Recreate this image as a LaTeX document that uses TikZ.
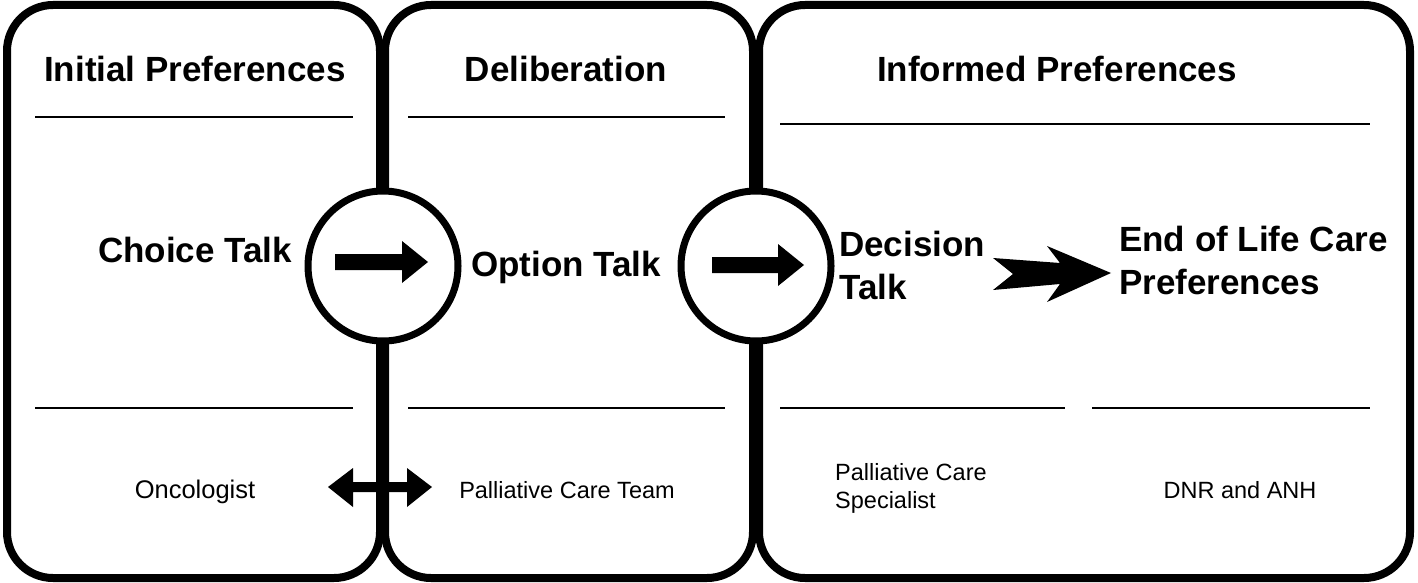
\documentclass[tikz,border=0pt]{standalone}
\usepackage{fontspec}
\setmainfont{Liberation Sans}
\begin{document}
\begin{tikzpicture}[x=1pt,y=-1pt,
  panel/.style={draw=black,line width=8pt,rounded corners=46pt},
  rule/.style={draw=black,line width=2pt},
  hub/.style={circle,draw=black,fill=white,line width=7pt,minimum size=150pt,inner sep=0pt},
  title/.style={font=\fontsize{35}{42}\selectfont\bfseries,anchor=base,inner sep=0pt},
  talk/.style={font=\fontsize{35}{43}\selectfont\bfseries,anchor=base,inner sep=0pt},
  talkl/.style={font=\fontsize{35}{43}\selectfont\bfseries,anchor=base west,align=left,inner sep=0pt},
  role/.style={font=\fontsize{23.5}{28}\selectfont,anchor=base,inner sep=0pt},
  rolel/.style={font=\fontsize{23.5}{28}\selectfont,anchor=base west,align=left,inner sep=0pt},
  icon/.style={fill=black,draw=none}]
\useasboundingbox (0,0) rectangle (1418,583);
% panels
\draw[panel] (7,5) rectangle (380,578);
\draw[panel] (385,5) rectangle (753,578);
\draw[panel] (759,5) rectangle (1410,578);
% rules
\draw[rule] (35,117) -- (353,117);
\draw[rule] (35,408) -- (353,408);
\draw[rule] (408,117) -- (725,117);
\draw[rule] (408,408) -- (725,408);
\draw[rule] (780,124) -- (1370,124);
\draw[rule] (780,408) -- (1065,408);
\draw[rule] (1092,408) -- (1370,408);
% titles
\node[title] (t1) at (195,82) {Initial Preferences};
\node[title] (t2) at (566,82) {Deliberation};
\node[title] (t3) at (1057,82) {Informed Preferences};
% hubs
\node[hub] (h1) at (383,266) {};
\node[hub] (h2) at (756,266) {};
% arrows inside hubs
\fill[icon] (335,254) -- (402,254) -- (402,241) -- (428,262) -- (402,283) -- (402,270) -- (335,270) -- cycle;
\fill[icon] (712,257) -- (778,257) -- (778,244) -- (804,265) -- (778,286) -- (778,273) -- (712,273) -- cycle;
% talks
\node[talk] (c1) at (195,262) {Choice Talk};
\node[talk] (c2) at (566,276) {Option Talk};
\node[talkl] (c3) at (839,299) {Decision\\Talk};
\node[talkl] (c4) at (1119,294) {End of Life Care\\Preferences};
% big arrow
\fill[icon] (993,258) -- (1060,263) -- (1047,246) -- (1111,273) -- (1047,302) -- (1060,284) -- (993,290) -- (1013,274) -- cycle;
% roles
\node[role,font=\fontsize{25.5}{30}\selectfont] (r1) at (195,498) {Oncologist};
\node[role] (r2) at (567,498) {Palliative Care Team};
\node[rolel] (r3) at (835,508) {Palliative Care\\Specialist};
\node[role] (r4) at (1240,498) {DNR and ANH};
% double arrow
\fill[icon] (328,487) -- (353,468) -- (353,482) -- (407,482) -- (407,468) -- (432,487) -- (407,507) -- (407,492) -- (353,492) -- (353,507) -- cycle;
\end{tikzpicture}
\end{document}
